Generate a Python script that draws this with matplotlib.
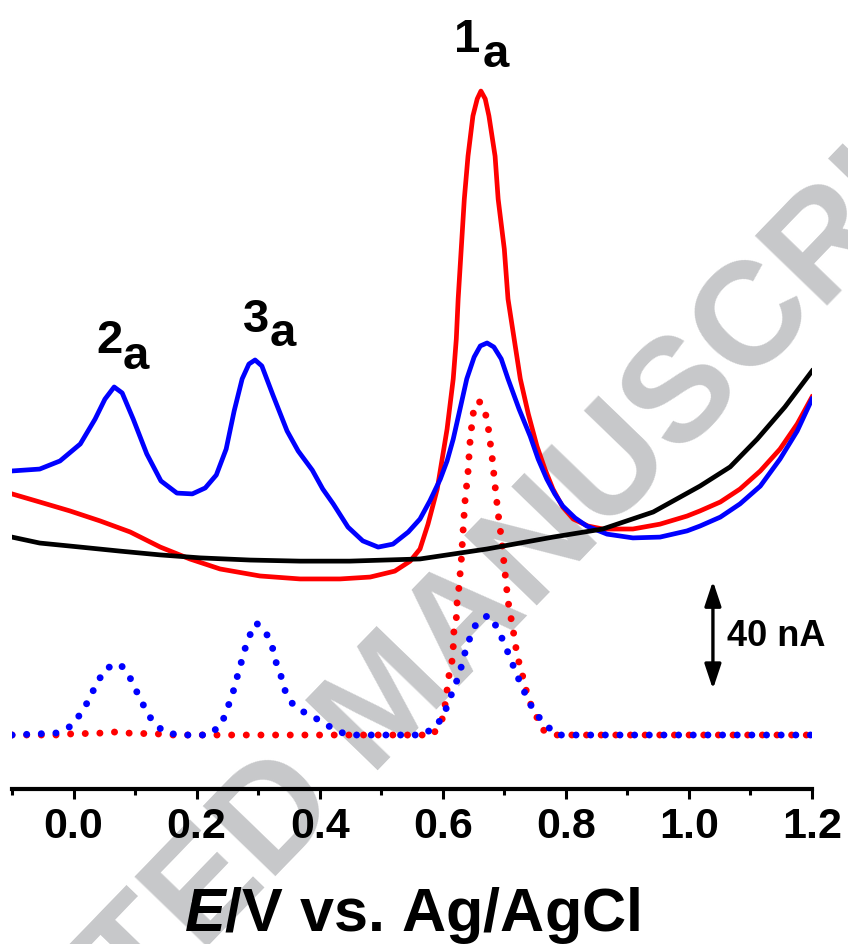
import numpy as np
import matplotlib.pyplot as plt
from matplotlib.ticker import MultipleLocator

plt.rcParams['font.family'] = 'Liberation Sans'
plt.rcParams['font.weight'] = 'bold'
plt.rcParams['mathtext.fontset'] = 'custom'
plt.rcParams['mathtext.it'] = 'Liberation Sans:bold:italic'
plt.rcParams['mathtext.rm'] = 'Liberation Sans:bold'

# potential (V vs Ag/AgCl) and current (nA, arbitrary offset)
E_red = [-0.100, -0.055, -0.006, 0.043, 0.092, 0.141, 0.189, 0.238, 0.303, 0.368,
         0.433, 0.482, 0.522, 0.547, 0.563, 0.576, 0.591, 0.607, 0.617, 0.622,
         0.625, 0.630, 0.635, 0.641, 0.649, 0.656, 0.662, 0.669, 0.675, 0.685,
         0.690, 0.700, 0.706, 0.716, 0.726, 0.739, 0.753, 0.766, 0.779, 0.795,
         0.812, 0.836, 0.860, 0.909, 0.953, 0.997, 1.018, 1.051, 1.083, 1.116,
         1.148, 1.176, 1.200]
I_red = [109.3, 106.3, 103.0, 99.3, 95.2, 89.6, 85.2, 81.5, 78.9, 77.8,
         77.8, 78.5, 80.7, 84.4, 88.9, 98.1, 111.1, 133.3, 151.9, 166.7,
         181.5, 200.0, 218.5, 234.4, 249.3, 255.6, 258.5, 255.6, 249.3, 234.4,
         218.5, 200.0, 181.5, 166.7, 151.9, 138.9, 127.0, 118.5, 111.1, 104.4,
         100.0, 97.4, 96.3, 96.3, 98.1, 101.1, 103.0, 106.3, 111.1, 117.8,
         125.9, 135.2, 145.2]

E_blue = [-0.100, -0.055, -0.022, 0.011, 0.035, 0.051, 0.066, 0.079, 0.097, 0.119,
          0.142, 0.168, 0.193, 0.214, 0.232, 0.248, 0.261, 0.274, 0.285, 0.295,
          0.306, 0.324, 0.347, 0.365, 0.388, 0.405, 0.422, 0.446, 0.470, 0.495,
          0.519, 0.544, 0.563, 0.579, 0.596, 0.607, 0.617, 0.628, 0.639, 0.651,
          0.661, 0.672, 0.683, 0.695, 0.706, 0.724, 0.742, 0.755, 0.769, 0.782,
          0.795, 0.815, 0.834, 0.867, 0.909, 0.953, 0.997, 1.018, 1.051, 1.083,
          1.116, 1.148, 1.176, 1.200]
I_blue = [117.8, 118.5, 121.5, 127.8, 137.0, 144.4, 148.9, 146.7, 137.0, 124.1,
          114.1, 109.6, 109.3, 111.5, 116.3, 125.9, 140.0, 151.9, 157.4, 158.9,
          156.7, 145.9, 132.6, 125.2, 118.1, 111.1, 105.6, 97.0, 91.9, 89.6,
          90.7, 95.2, 100.0, 106.7, 114.8, 121.5, 129.6, 140.7, 151.9, 160.0,
          164.1, 165.2, 163.7, 159.3, 151.9, 140.7, 130.7, 122.2, 114.8, 109.3,
          104.8, 100.4, 97.4, 94.4, 93.0, 93.3, 95.6, 97.4, 100.7, 105.6,
          112.2, 122.2, 132.6, 144.4]

E_black = [-0.100, -0.055, 0.011, 0.076, 0.141, 0.206, 0.287, 0.368, 0.449, 0.563,
           0.672, 0.779, 0.860, 0.942, 1.018, 1.067, 1.111, 1.156, 1.200]
I_black = [93.3, 91.1, 89.6, 88.1, 86.7, 85.6, 84.8, 84.4, 84.4, 85.2,
           88.9, 93.3, 96.3, 102.6, 112.2, 119.3, 129.6, 141.5, 154.8]

E_blue_dot = [-0.100, -0.029, -0.004, 0.015, 0.027, 0.038, 0.053, 0.076, 0.092, 0.103,
              0.115, 0.128, 0.147, 0.171, 0.219, 0.240, 0.249, 0.258, 0.264, 0.271,
              0.277, 0.284, 0.297, 0.313, 0.323, 0.329, 0.337, 0.344, 0.357, 0.379,
              0.402, 0.427, 0.449, 0.568, 0.591, 0.604, 0.613, 0.622, 0.630, 0.636,
              0.644, 0.654, 0.674, 0.690, 0.700, 0.709, 0.719, 0.729, 0.740, 0.753,
              0.773, 0.786, 1.200]
I_blue_dot = [20.0, 20.7, 23.3, 28.9, 34.1, 39.3, 44.8, 46.3, 41.1, 35.9,
              30.4, 25.2, 21.1, 20.0, 20.0, 23.7, 29.3, 34.8, 40.0, 45.6,
              50.7, 55.9, 61.5, 57.8, 52.6, 47.0, 41.9, 36.3, 31.1, 27.8,
              25.2, 21.5, 20.0, 20.0, 23.7, 28.9, 34.4, 39.6, 45.2, 50.4,
              55.9, 61.1, 64.4, 59.3, 53.7, 48.9, 43.0, 37.8, 32.2, 27.4,
              22.6, 20.0, 20.0]

E_red_dot = [-0.100, -0.029, -0.004, 0.043, 0.066, 0.090, 0.137, 0.160, 0.584, 0.599,
             0.604, 0.607, 0.610, 0.615, 0.617, 0.618, 0.622, 0.623, 0.626, 0.630,
             0.633, 0.636, 0.641, 0.644, 0.649, 0.659, 0.669, 0.674, 0.680, 0.685,
             0.690, 0.696, 0.701, 0.706, 0.714, 0.721, 0.729, 0.735, 0.742, 0.752,
             0.763, 0.778, 1.200]
I_red_dot = [20.0, 20.0, 20.4, 20.7, 21.1, 20.7, 20.4, 20.0, 20.0, 25.9,
             31.5, 36.7, 41.9, 47.4, 52.6, 58.1, 63.3, 68.5, 74.1, 84.4,
             95.6, 106.3, 117.4, 127.8, 138.9, 143.7, 139.6, 133.7, 123.3, 112.2,
             101.9, 91.5, 80.4, 69.6, 59.3, 49.3, 42.6, 37.0, 31.9, 27.0,
             21.9, 20.0, 20.0]

xticks = [0.0, 0.2, 0.4, 0.6, 0.8, 1.0, 1.2]
xtick_labels = ['0.0', '0.2', '0.4', '0.6', '0.8', '1.0', '1.2']

fig = plt.figure(figsize=(8.48, 9.45), dpi=100)
ax = fig.add_axes([12/848, 155/945, 800/848, 790/945])
ax.set_facecolor('none')

# watermark behind everything
ax.text(0.46, 0.255, 'ACCEPTED MANUSCRIPT', transform=fig.transFigure,
        rotation=46, rotation_mode='anchor', ha='center', va='center',
        fontsize=106, color='#c7c8ca', fontweight='bold', zorder=0)

dots = (0, (0.01, 2.1))
ax.plot(E_red_dot, I_red_dot, color='#ff0000', lw=5, linestyle=dots,
        dash_capstyle='round', zorder=2)
ax.plot(E_blue_dot, I_blue_dot, color='#0000ff', lw=5, linestyle=dots,
        dash_capstyle='round', zorder=2.1)
ax.plot(E_red, I_red, color='#ff0000', lw=3.4, zorder=3)
ax.plot(E_blue, I_blue, color='#0000ff', lw=3.4, zorder=3.1)
ax.plot(E_black, I_black, color='black', lw=3.4, zorder=3.2)

# peak labels
lab = dict(fontsize=34, fontweight='bold', ha='center', va='baseline', zorder=4)
ax.text(0.639, 273.3, '1', **lab)
ax.text(0.686, 267.8, 'a', **lab)
ax.text(0.058, 161.9, '2', **lab)
ax.text(0.101, 155.9, 'a', **lab)
ax.text(0.297, 169.6, '3', **lab)
ax.text(0.340, 164.4, 'a', **lab)

# 40 nA scale bar
ax.annotate('', xy=(1.039, 77.0), xytext=(1.039, 37.0),
            arrowprops=dict(arrowstyle='<|-|>,head_length=0.75,head_width=0.25',
                            mutation_scale=20, lw=2.4, color='black',
                            shrinkA=0, shrinkB=0), zorder=4)
ax.text(1.062, 53.3, '40 nA', fontsize=26, fontweight='bold',
        ha='left', va='baseline', zorder=4)

ax.set_xlim(-0.1, 1.2)
ax.set_ylim(0, 292.6)
for s in ['left', 'right', 'top']:
    ax.spines[s].set_visible(False)
ax.spines['bottom'].set_linewidth(3)
ax.set_yticks([])
ax.set_xticks(xticks)
ax.set_xticklabels(xtick_labels)
ax.xaxis.set_minor_locator(MultipleLocator(0.1))
ax.tick_params(axis='x', which='major', direction='out', length=7.5, width=2.2,
               labelsize=31, pad=5)
ax.tick_params(axis='x', which='minor', direction='out', length=4.5, width=2.2)
ax.set_xlabel(r'$E$/V vs. Ag/AgCl', fontsize=44, fontweight='bold', labelpad=27)

fig.savefig('out.png', dpi=100)
